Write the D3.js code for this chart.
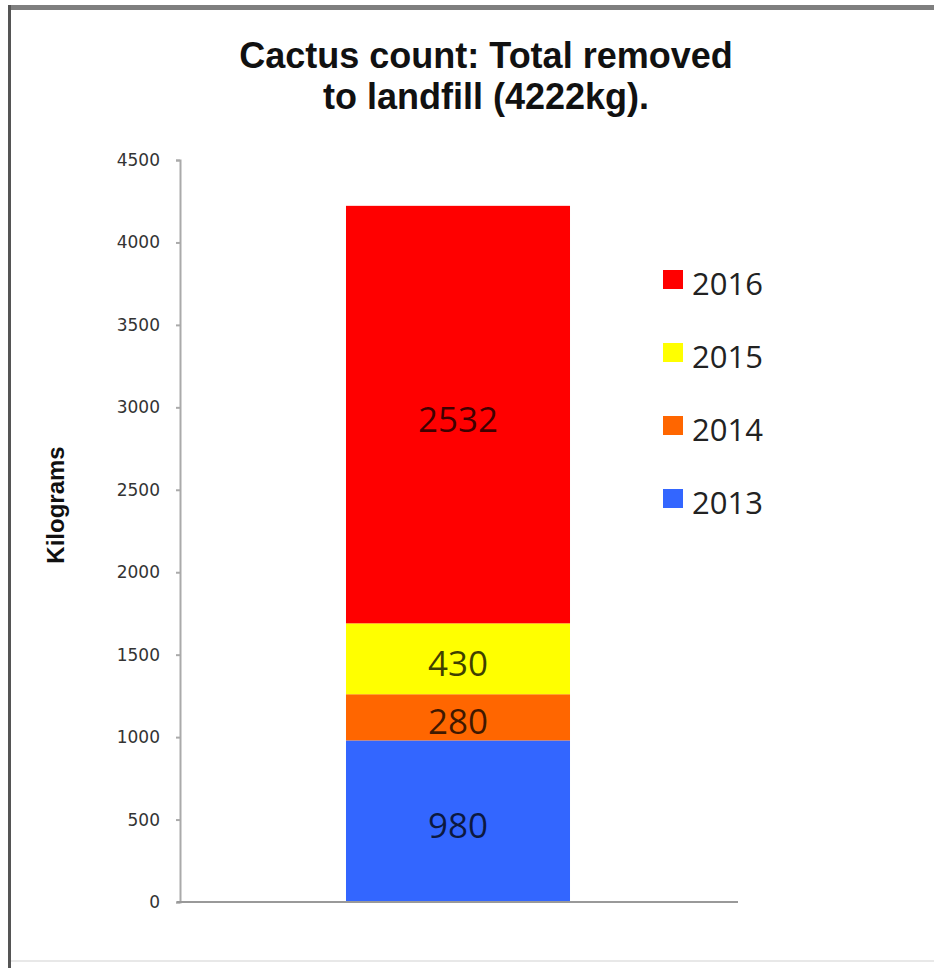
<!DOCTYPE html>
<html lang="en">
<head>
    <meta charset="UTF-8">
    <title>Cactus count</title>
    <script src="https://cdn.jsdelivr.net/npm/d3@7"></script>
    <style>
        html, body {
            margin: 0;
            padding: 0;
            background: #fff;
            overflow: hidden;
        }
    </style>
</head>
<body>
<script>
    let width = 934;
    let height = 968;

    // data
    let years = ['2013', '2014', '2015', '2016'];
    let kilograms = [980, 280, 430, 2532];
    let colors = ['#3366ff', '#ff6600', '#ffff00', '#ff0000'];
    let yTicks = [0, 500, 1000, 1500, 2000, 2500, 3000, 3500, 4000, 4500];
    let titleLines = ['Cactus count: Total removed', 'to landfill (4222kg).'];

    let svg = d3.select('body').append('svg')
        .attr('width', width)
        .attr('height', height);

    // frame of the original screenshot
    svg.append('rect').attr('x', 8).attr('y', 5).attr('width', width - 8).attr('height', 5).attr('fill', '#7f7f7f');
    svg.append('rect').attr('x', 8).attr('y', 5).attr('width', 3).attr('height', height - 5).attr('fill', '#555');
    svg.append('line').attr('x1', 11).attr('x2', width).attr('y1', 961).attr('y2', 961)
        .attr('stroke', '#e8e8e8').attr('stroke-width', 2);

    let y = d3.scaleLinear().domain([0, 4500]).range([902, 160]);
    let x = d3.scaleBand().domain(['total']).range([180, 736]).paddingInner(0).paddingOuter(0.741);

    // stack the years in one column
    let row = {key: 'total'};
    years.forEach((yr, i) => row[yr] = kilograms[i]);
    let series = d3.stack().keys(years)([row]);

    // title
    svg.append('g').selectAll('text')
        .data(titleLines)
        .enter().append('text')
        .attr('x', 486)
        .attr('y', (d, i) => 68 + i * 41)
        .attr('text-anchor', 'middle')
        .attr('font-family', '"Liberation Sans Narrow", "Arial Narrow", "Liberation Sans", sans-serif')
        .attr('font-weight', 'bold')
        .attr('font-size', 36)
        .attr('fill', '#111')
        .text(d => d);

    // y axis
    let yAxis = svg.append('g')
        .attr('transform', 'translate(180,0)')
        .call(d3.axisLeft(y).tickValues(yTicks).tickSize(4).tickPadding(16).tickFormat(d3.format('d')));
    yAxis.select('.domain').attr('stroke', '#aaa').attr('stroke-width', 2);
    yAxis.selectAll('.tick line').attr('stroke', '#aaa').attr('stroke-width', 2);
    yAxis.selectAll('.tick text')
        .attr('font-family', '"DejaVu Sans", Verdana, sans-serif')
        .attr('font-size', 17)
        .attr('fill', '#333');

    svg.append('text')
        .attr('transform', 'translate(64,505) rotate(-90)')
        .attr('text-anchor', 'middle')
        .attr('font-family', '"Liberation Sans", Arial, sans-serif')
        .attr('font-weight', 'bold')
        .attr('font-size', 24)
        .attr('fill', '#111')
        .text('Kilograms');

    // bar segments
    svg.append('g').selectAll('rect')
        .data(series)
        .enter().append('rect')
        .attr('x', x('total'))
        .attr('width', x.bandwidth())
        .attr('y', d => y(d[0][1]))
        .attr('height', d => y(d[0][0]) - y(d[0][1]))
        .attr('fill', (d, i) => colors[i]);

    // baseline
    svg.append('line')
        .attr('x1', 177).attr('x2', 738)
        .attr('y1', y(0)).attr('y2', y(0))
        .attr('stroke', '#999').attr('stroke-width', 2);

    // value labels
    svg.append('g').selectAll('text')
        .data(series)
        .enter().append('text')
        .attr('x', x('total') + x.bandwidth() / 2)
        .attr('y', d => (y(d[0][0]) + y(d[0][1])) / 2 + 17)
        .attr('text-anchor', 'middle')
        .attr('font-family', '"Open Sans", sans-serif')
        .attr('font-size', 35)
        .attr('fill', '#000')
        .attr('fill-opacity', 0.75)
        .text((d, i) => kilograms[i]);

    // legend, newest year on top
    let legend = svg.append('g').selectAll('g')
        .data(years.slice().reverse())
        .enter().append('g')
        .attr('transform', (d, i) => `translate(663,${295 + i * 73})`);
    legend.append('rect')
        .attr('x', 0).attr('y', -25)
        .attr('width', 20).attr('height', 19)
        .attr('fill', d => colors[years.indexOf(d)]);
    legend.append('text')
        .attr('x', 29)
        .attr('font-family', '"Open Sans", sans-serif')
        .attr('font-size', 31)
        .attr('fill', '#222')
        .text(d => d);
</script>
</body>
</html>
